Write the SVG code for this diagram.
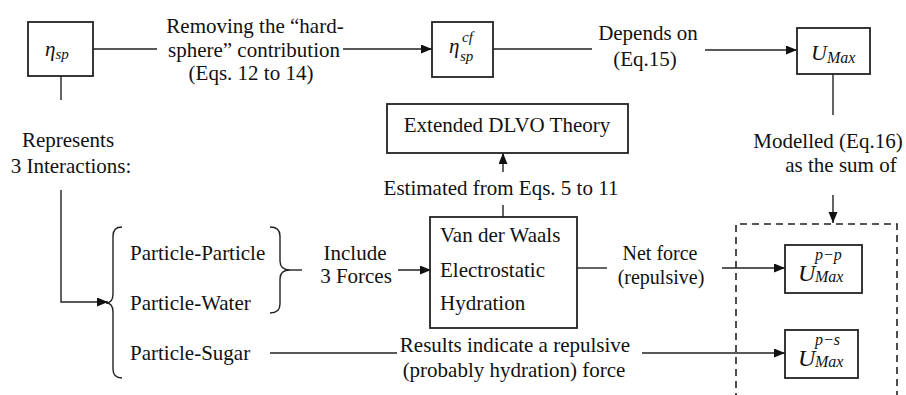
<svg xmlns="http://www.w3.org/2000/svg" width="906" height="395" viewBox="0 0 906 395">
<style>
text{font-family:'Liberation Serif','DejaVu Serif',serif;font-size:21px;fill:#111}
.c{text-anchor:middle}
.i{font-style:italic}
.s15{font-size:15px}
.s16{font-size:16px}
.s20{font-size:20px}
.s22{font-size:22px}
.s24{font-size:24px}
.box{fill:#fff;stroke:#222;stroke-width:1.8}
.ln{fill:none;stroke:#222;stroke-width:1.4}
.dash{fill:none;stroke:#222;stroke-width:1.6;stroke-dasharray:7 5}
</style>
<defs>
<marker id="ah" markerUnits="userSpaceOnUse" markerWidth="12" markerHeight="10" refX="11" refY="4.5" orient="auto">
<path d="M0,0 L11,4.5 L0,9 z" fill="#111"/>
</marker>
</defs>

<g id="connectors">
<path class="ln" d="M93,49 H157"/>
<path class="ln" d="M343,49 H432" marker-end="url(#ah)"/>
<path class="ln" d="M493,49 H592"/>
<path class="ln" d="M705,50 H797" marker-end="url(#ah)"/>
<path class="ln" d="M833,74 V115"/>
<path class="ln" d="M833,195 V223" marker-end="url(#ah)"/>
<path class="ln" d="M61,76 V100"/>
<path class="ln" d="M61,190 V302 H108" marker-end="url(#ah)"/>
<path class="ln" d="M290,270 H302"/>
<path class="ln" d="M398,270 H431" marker-end="url(#ah)"/>
<path class="ln" d="M503,217 V205"/>
<path class="ln" d="M503,172 V153" marker-end="url(#ah)"/>
<path class="ln" d="M577,268 H607"/>
<path class="ln" d="M722,268 H785" marker-end="url(#ah)"/>
<path class="ln" d="M270,353 H397"/>
<path class="ln" d="M642,353 H785" marker-end="url(#ah)"/>
<path id="brace-big" class="ln" d="M122,227 Q113,227 113,236 L113,294 Q113,303 106,303 Q113,303 113,312 L113,369 Q113,378 122,378"/>
<path id="brace-small" class="ln" d="M270,227 Q280,227 280,236 L280,261 Q280,270 290,270 Q280,270 280,279 L280,304 Q280,313 270,313"/>
<path id="dashed-group" class="dash" d="M736,400 V224 H897 V400"/>
</g>

<g id="labels">
<text class="c" x="255" y="33">Removing the “hard-</text>
<text class="c" x="254" y="57">sphere” contribution</text>
<text class="c" x="251" y="80">(Eqs. 12 to 14)</text>
<text class="c" x="648" y="40">Depends on</text>
<text class="c" x="645" y="66">(Eq.15)</text>
<text class="c" x="68" y="147">Represents</text>
<text class="c" x="71" y="173">3 Interactions:</text>
<text class="c" x="828" y="148">Modelled (Eq.16)</text>
<text class="c" x="841" y="172">as the sum of</text>
<text class="c" x="501" y="195">Estimated from Eqs. 5 to 11</text>
<text class="c" x="355" y="260">Include</text>
<text class="c" x="356" y="283">3 Forces</text>
<text class="c s20" x="660" y="260">Net  force</text>
<text class="c s20" x="661" y="284">(repulsive)</text>
<text class="c" x="515" y="352">Results indicate a repulsive</text>
<text class="c" x="514" y="377">(probably hydration) force</text>
</g>

<g id="interactions">
<text x="130" y="260">Particle-Particle</text>
<text x="130" y="310">Particle-Water</text>
<text x="130" y="360">Particle-Sugar</text>
</g>

<g id="eta-sp">
<rect class="box" x="28" y="22" width="65" height="54"/>
<text class="i" x="45" y="56">η<tspan class="s15" dy="3">sp</tspan></text>
</g>

<g id="eta-sp-cf">
<rect class="box" x="432" y="22" width="61" height="55"/>
<text class="i" x="449" y="53">η</text>
<text class="i s15" x="462" y="42">cf</text>
<text class="i s15" x="460" y="61">sp</text>
</g>

<g id="u-max">
<rect class="box" x="797" y="28" width="73" height="46"/>
<text class="i s22" x="811" y="60">U<tspan class="s16" dy="3">Max</tspan></text>
</g>

<g id="extended-dlvo">
<rect class="box" x="387" y="104" width="241" height="49"/>
<text class="c" x="507" y="132">Extended DLVO Theory</text>
</g>

<g id="forces">
<rect class="box" x="430" y="217" width="147" height="111" stroke-width="2"/>
<text x="440" y="242">Van der Waals</text>
<text x="440" y="277">Electrostatic</text>
<text x="440" y="310">Hydration</text>
</g>

<g id="u-pp">
<rect class="box" x="785" y="245" width="77" height="48"/>
<text class="i s24" x="798" y="281">U</text>
<text class="i s16" x="815" y="260">p−p</text>
<text class="i s16" x="815" y="282">Max</text>
</g>

<g id="u-ps">
<rect class="box" x="785" y="330" width="73" height="48"/>
<text class="i s24" x="798" y="366">U</text>
<text class="i s16" x="815" y="345">p−s</text>
<text class="i s16" x="815" y="367">Max</text>
</g>
</svg>
